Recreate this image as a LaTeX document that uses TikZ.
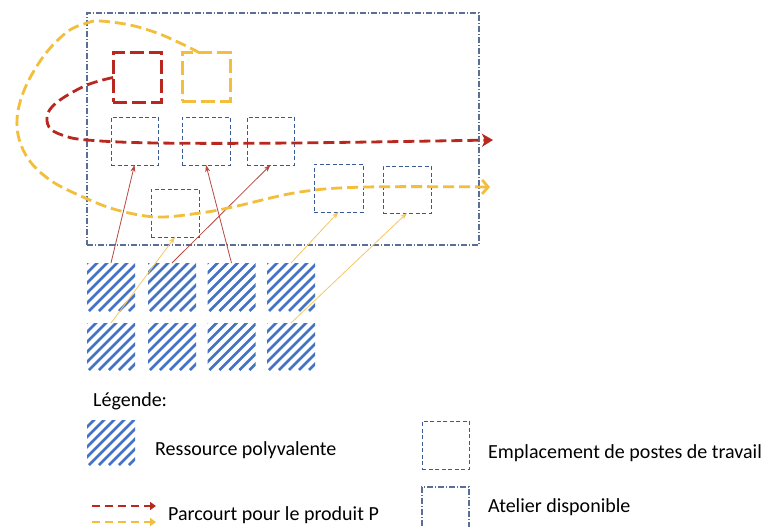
\documentclass[tikz,border=0pt]{standalone}
\usepackage{fontspec}
\setmainfont{Carlito}
\usetikzlibrary{arrows.meta}
\definecolor{frameblue}{HTML}{5A6F96}
\definecolor{sqblue}{HTML}{3A5A95}
\definecolor{hatchblue}{HTML}{4472C4}
\definecolor{pred}{HTML}{B8281E}
\definecolor{pyel}{HTML}{F2BE3C}
\definecolor{thinred}{HTML}{B5493F}
\definecolor{thinyel}{HTML}{F5C862}
\begin{document}
\begin{tikzpicture}[x=1pt,y=-1pt,
  sqbox/.style={draw=sqblue, line width=0.9pt, dash pattern=on 4pt off 2.5pt, minimum width=47pt, minimum height=48pt, inner sep=0pt, outer sep=0pt},
  framebox/.style={draw=frameblue, line width=1.1pt, dash pattern=on 6pt off 2pt on 1pt off 2pt, inner sep=0pt, outer sep=0pt},
  thickred/.style={draw=pred, line width=3pt, dash pattern=on 14pt off 5pt, minimum width=48pt, minimum height=48pt, inner sep=0pt, outer sep=0pt},
  thickyel/.style={draw=pyel, line width=3pt, dash pattern=on 14pt off 5pt, minimum width=48pt, minimum height=48pt, inner sep=0pt, outer sep=0pt},
  hatchbox/.style={minimum width=48pt, minimum height=48pt, inner sep=0pt, outer sep=0pt,
    path picture={\foreach \i in {-58,-48,...,50}{\draw[hatchblue,line width=2.5pt] ([xshift=\i pt]path picture bounding box.south west) -- ++(60pt,60pt);}}},
  redpath/.style={pred, line width=2.8pt, dash pattern=on 11pt off 5pt, -{Stealth[length=11pt,width=13pt,inset=3pt]}},
  yelpath/.style={pyel, line width=2.8pt, dash pattern=on 11pt off 5pt, -{Straight Barb[length=6pt,width=14pt]}},
  redthin/.style={thinred, line width=0.8pt, -{Stealth[length=7pt,width=5pt]}},
  yelthin/.style={thinyel, line width=0.8pt, -{Stealth[length=7pt,width=5pt]}},
  lbl/.style={font=\fontsize{20}{24}\selectfont, inner sep=0pt, text=black}
]
\clip (0,0) rectangle (763,527);
\fill[white] (0,0) rectangle (763,527);

% workshop frame
\node[framebox, minimum width=392pt, minimum height=232pt] (atelier) at (283,129) {};

% dashed path squares
\node[thickred, minimum height=49pt] (redsq) at (137,77.5) {};
\node[thickyel] (yelsq) at (206,77) {};

% workstation locations
\node[sqbox] (s1) at (134.5,141) {};
\node[sqbox, minimum width=48pt] (s2) at (206,141) {};
\node[sqbox] (s3) at (270.5,141) {};
\node[sqbox, minimum width=48pt] (s4) at (175,213) {};
\node[sqbox, minimum width=49pt] (s5) at (338.5,188) {};
\node[sqbox, minimum width=48pt, minimum height=47pt] (s6) at (407,189.5) {};

% resources
\node[hatchbox] (h1) at (111,287) {};
\node[hatchbox] (h2) at (172,287) {};
\node[hatchbox] (h3) at (231.5,287) {};
\node[hatchbox] (h4) at (291,287) {};
\node[hatchbox, minimum height=47pt] (h5) at (111,346.5) {};
\node[hatchbox, minimum height=47pt] (h6) at (172,346.5) {};
\node[hatchbox, minimum height=47pt] (h7) at (231.5,346.5) {};
\node[hatchbox, minimum height=47pt] (h8) at (291,346.5) {};

% thin assignment arrows
\draw[redthin] (h1.north) -- (s1.south);
\draw[redthin] (h2.north) -- (s3.south);
\draw[redthin] (h3.north) -- (s2.south);
\draw[yelthin] (h5.north) -- (s4.south);
\draw[yelthin] (h4.north) -- (s5.south);
\draw[yelthin] (h8.north) -- (s6.south);

% product routes
\coordinate (redend) at (493,140);
\coordinate (yelend) at (490,187);
\draw[redpath] plot[smooth, tension=0.6] coordinates {(redsq.west) (87,85) (60,100) (48,113) (49,127) (62,135) (87,140) (157,143) (293,143) (redend)};
\draw[yelpath] plot[smooth, tension=0.6] coordinates {([xshift=-6pt]yelsq.north) (180,43) (157,33) (130,25) (100,21) (87,23) (67,32) (43,57) (23,93) (17,127) (27,157) (50,180) (83,197) (117,210) (157,217) (200,213) (233,207) (300,192) (367,187) (yelend)};

% legend
\node[lbl, anchor=base west] (legtitle) at (93,406) {Légende:};
\node[hatchbox, minimum height=45pt] (leghatch) at (111,442.5) {};
\node[lbl, anchor=base west] (legres) at (155,455) {Ressource polyvalente};
\coordinate (lr1) at (92,506);
\coordinate (lr2) at (156,506);
\coordinate (ly1) at (92,522);
\coordinate (ly2) at (156,522);
\draw[pred, line width=2.5pt, dash pattern=on 8pt off 5pt, -{Triangle[length=6pt,width=8pt]}] (lr1) -- (lr2);
\draw[pyel, line width=2.5pt, dash pattern=on 8pt off 5pt, -{Triangle[length=6pt,width=8pt]}] (ly1) -- (ly2);
\node[lbl, anchor=base west] (legpath) at (168,520) {Parcourt pour le produit P};
\node[sqbox] (legsq) at (445.5,445) {};
\node[lbl, anchor=base west] (legsqt) at (488,458) {Emplacement de postes de travail};
\node[framebox, minimum width=47pt, minimum height=60pt] (legfr) at (445.5,517) {};
\node[lbl, anchor=base west] (legfrt) at (488,512) {Atelier disponible};
\end{tikzpicture}
\end{document}
